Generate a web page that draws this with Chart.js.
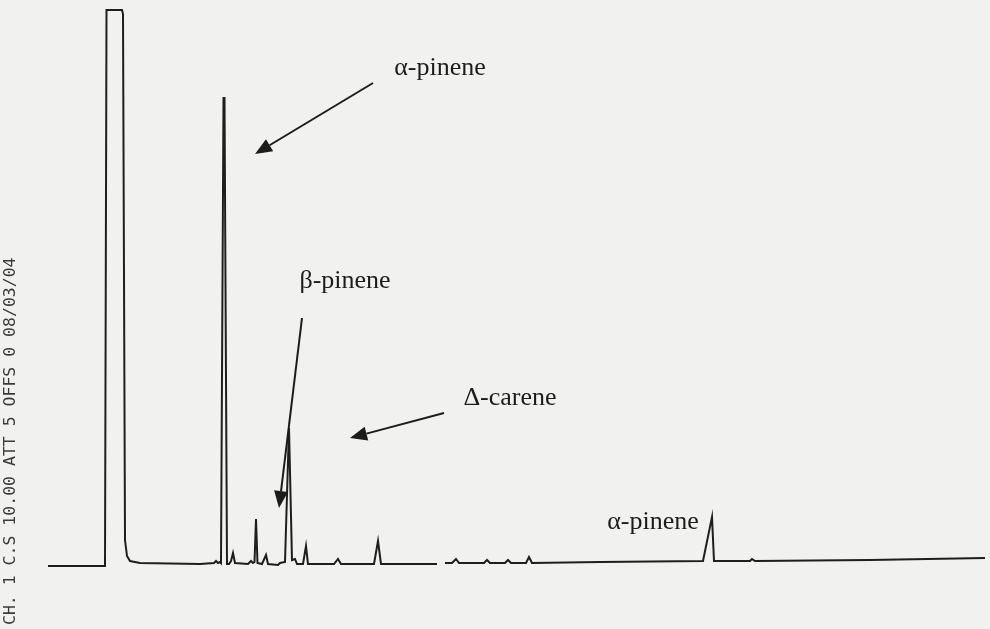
<!DOCTYPE html>
<html>
<head>
<meta charset="utf-8">
<script src="https://cdn.jsdelivr.net/npm/chart.js@4"></script>
<style>
  html, body { margin: 0; padding: 0; background: #f1f1ef; }
  #wrap { width: 990px; height: 629px; }
</style>
</head>
<body>
<div id="wrap"><canvas id="chart1"></canvas></div>
<script>
// retention time (arbitrary units) and detector signal
var times = [0, 5.7, 5.85, 7.4, 7.5, 7.7, 7.9, 8.2, 9.2, 15.2, 16.6, 16.8, 17.0, 17.2,
  17.3, 17.55, 17.65, 17.9, 18.1, 18.3, 18.5, 18.7, 20.0, 20.3, 20.5, 20.65, 20.8, 20.95,
  21.4, 21.8, 22.0, 23.0, 23.2, 23.7, 24.1, 24.4, 24.7, 24.9, 25.5, 25.8, 26.0,
  28.6, 29.0, 29.3, 32.6, 33.0, 33.3, 38.9, 39.3, 39.7, 40.4, 40.8, 41.1,
  43.6, 43.9, 44.2, 45.7, 46.0, 46.3, 47.8, 48.1, 48.4, 55.2,
  65.5, 66.4, 66.6, 70.2, 70.4, 70.7, 82.2, 93.7];
var signal = [0, 0, 556, 556, 552, 26, 10, 5, 3, 2, 3, 5, 3, 4,
  3, 468, 468, 2, 2, 5, 13, 3, 2, 5, 3, 4, 47, 3,
  2, 11, 2, 1, 3, 4, 138, 6, 7, 2, 2, 20, 2,
  2, 7, 2, 2, 25, 2, 2, null, 3, 3, 7, 3,
  3, 6, 3, 3, 6, 3, 3, 9, 3, 4,
  5, 49, 5, 5, 7, 5, 6, 8];

// peak labels: text, anchor time, anchor signal (text baseline)
var labelText = ["\u03b1-pinene", "\u03b2-pinene", "\u0394-carene", "\u03b1-pinene"];
var labelTime = [39.2, 29.7, 46.2, 60.5];
var labelSignal = [491, 278, 161, 37];
// arrows: from (time, signal) to (time, signal)
var arrowFromT = [32.5, 25.4, 39.6];
var arrowFromS = [483, 248, 153];
var arrowToT = [20.7, 23.1, 30.2];
var arrowToS = [412, 58, 128];

var header = "CH. 1 C.S 10.00 ATT 5 OFFS 0 08/03/04";

var points = times.map(function (t, i) { return { x: t, y: signal[i] }; });

var paperPlugin = {
  id: 'paper',
  beforeDraw: function (chart) {
    var c = chart.ctx;
    c.save();
    c.fillStyle = '#f1f1ef';
    c.fillRect(0, 0, chart.width, chart.height);
    c.restore();
  },
  afterDraw: function (chart) {
    var c = chart.ctx;
    var xs = chart.scales.x, ys = chart.scales.y;
    c.save();
    c.fillStyle = '#1c1c1c';
    c.strokeStyle = '#1c1c1c';
    c.textAlign = 'center';
    c.textBaseline = 'alphabetic';
    labelText.forEach(function (txt, i) {
      c.font = '26px "Liberation Serif", serif';
      c.fillText(txt, xs.getPixelForValue(labelTime[i]), ys.getPixelForValue(labelSignal[i]));
    });
    c.lineWidth = 2;
    arrowFromT.forEach(function (t, i) {
      var x1 = xs.getPixelForValue(t), y1 = ys.getPixelForValue(arrowFromS[i]);
      var x2 = xs.getPixelForValue(arrowToT[i]), y2 = ys.getPixelForValue(arrowToS[i]);
      var a = Math.atan2(y2 - y1, x2 - x1);
      var len = 17, w = 7;
      var bx = x2 - len * Math.cos(a), by = y2 - len * Math.sin(a);
      c.beginPath();
      c.moveTo(x1, y1);
      c.lineTo(bx, by);
      c.stroke();
      c.beginPath();
      c.moveTo(x2, y2);
      c.lineTo(bx + w * Math.sin(a), by - w * Math.cos(a));
      c.lineTo(bx - w * Math.sin(a), by + w * Math.cos(a));
      c.closePath();
      c.fill();
    });
    // instrument header printed up the left margin
    c.translate(11, 625);
    c.rotate(-Math.PI / 2);
    c.fillStyle = '#3a3a3a';
    c.font = '16.5px "DejaVu Sans Mono", monospace';
    c.textAlign = 'left';
    c.textBaseline = 'middle';
    c.fillText(header, 0, 0);
    c.restore();
  }
};

var chart1 = new Chart(document.getElementById('chart1'), {
  type: 'line',
  data: {
    datasets: [{
      data: points,
      borderColor: '#1e1e1e',
      borderWidth: 2,
      pointRadius: 0,
      tension: 0,
      fill: false,
      spanGaps: false
    }]
  },
  options: {
    responsive: true,
    maintainAspectRatio: false,
    animation: false,
    layout: { padding: 0 },
    plugins: { legend: { display: false }, tooltip: { enabled: false } },
    scales: {
      x: { type: 'linear', display: false, min: -4.8, max: 94.2 },
      y: { display: false, min: -63, max: 566 }
    }
  },
  plugins: [paperPlugin]
});
</script>
</body>
</html>
